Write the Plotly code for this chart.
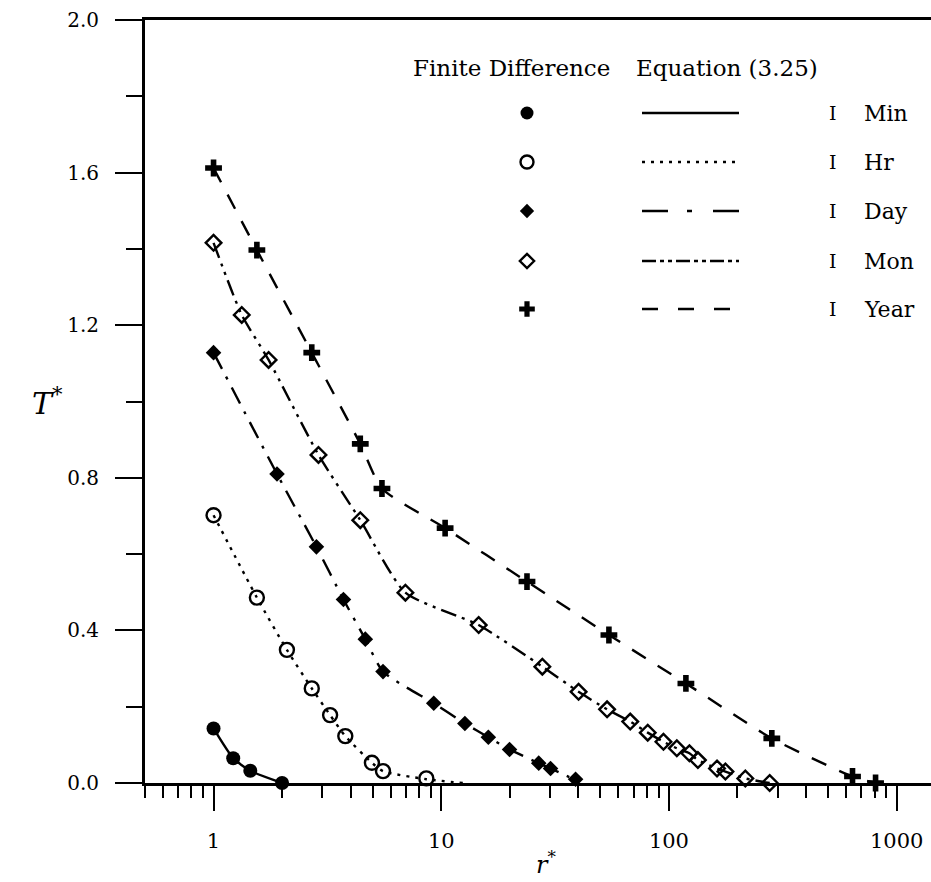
import numpy as np
import plotly.graph_objects as go

# ---------------- data ----------------
series_names = ["Min", "Hr", "Day", "Mon", "Year"]

# Finite difference results (markers)
min_fd_x = [1.0, 1.22, 1.45, 2.0]
min_fd_y = [0.143, 0.065, 0.032, 0.0]

hr_fd_x = [1.0, 1.55, 2.10, 2.70, 3.25, 3.79, 4.96, 5.55, 8.6]
hr_fd_y = [0.702, 0.486, 0.349, 0.248, 0.178, 0.123, 0.053, 0.031, 0.012]

day_fd_x = [1.0, 1.90, 2.83, 3.72, 4.64, 5.55, 9.27, 12.7, 16.1, 19.95, 26.8, 30.2, 38.9]
day_fd_y = [1.128, 0.81, 0.619, 0.481, 0.377, 0.292, 0.209, 0.156, 0.12, 0.088, 0.052, 0.038, 0.01]

mon_fd_x = [1.0, 1.33, 1.745, 2.89, 4.41, 6.96, 14.6, 27.8, 40.1, 53.5, 67.6, 80.7, 94.6,
            108.3, 123, 134, 162.6, 177, 216.5, 277]
mon_fd_y = [1.416, 1.227, 1.109, 0.86, 0.689, 0.499, 0.414, 0.305, 0.239, 0.193, 0.161, 0.132,
            0.108, 0.091, 0.078, 0.06, 0.038, 0.03, 0.012, 0.0]

year_fd_x = [1.0, 1.55, 2.70, 4.41, 5.49, 10.4, 23.8, 54.5, 118.7, 283, 640, 808]
year_fd_y = [1.612, 1.397, 1.128, 0.889, 0.772, 0.668, 0.528, 0.388, 0.261, 0.117, 0.017, 0.0]

# Equation (3.25) curves
min_eq_x = [1.0, 1.22, 1.45, 2.0]
min_eq_y = [0.143, 0.065, 0.032, 0.0]

hr_eq_x = [1.0, 1.55, 2.10, 2.70, 3.25, 3.79, 4.96, 5.55, 8.6, 12.5]
hr_eq_y = [0.702, 0.486, 0.349, 0.248, 0.178, 0.123, 0.053, 0.031, 0.010, 0.0]

day_eq_x = [1.0, 1.90, 2.83, 3.72, 4.64, 5.55, 9.27, 12.7, 16.1, 19.95, 26.8, 30.2, 38.9]
day_eq_y = [1.128, 0.81, 0.619, 0.481, 0.377, 0.292, 0.209, 0.156, 0.12, 0.088, 0.052, 0.038, 0.008]

mon_eq_x = [1.0, 1.33, 1.745, 2.89, 4.41, 6.96, 14.6, 27.8, 40.1, 53.5, 67.6, 80.7, 94.6,
            108.3, 123, 134, 162.6, 177, 216.5, 277]
mon_eq_y = [1.416, 1.227, 1.109, 0.86, 0.689, 0.499, 0.414, 0.305, 0.239, 0.193, 0.161, 0.132,
            0.108, 0.091, 0.078, 0.06, 0.038, 0.03, 0.012, 0.0]

year_eq_x = [1.0, 1.55, 2.70, 4.41, 5.49, 10.4, 23.8, 54.5, 118.7, 283, 640, 808]
year_eq_y = [1.612, 1.397, 1.128, 0.889, 0.772, 0.668, 0.528, 0.388, 0.261, 0.117, 0.017, 0.0]

x_tick_vals = [1, 10, 100, 1000]
x_tick_text = ["1", "10", "100", "1000"]
x_minor_vals = [0.5, 0.6, 0.7, 0.8, 0.9] + [m * d for d in (1, 10, 100) for m in range(2, 10)]
y_tick_vals = [0.0, 0.4, 0.8, 1.2, 1.6, 2.0]
y_tick_text = ["0.0", "0.4", "0.8", "1.2", "1.6", "2.0"]
y_minor_vals = [0.2, 0.6, 1.0, 1.4, 1.8]

# ---------------- styles ----------------
FONT = "DejaVu Serif"
W, H = 931, 882
ML, MR, MT, MB = 145, 0, 20, 99
PW, PH = W - ML - MR, H - MT - MB

styles = {
    "Min":  dict(symbol="circle", size=14, lw=0, dash="solid", leg_dash="solid"),
    "Hr":   dict(symbol="circle-open", size=14, lw=2.4, dash="3px,6px", leg_dash="3px,6px"),
    "Day":  dict(symbol="diamond", size=12, lw=0, dash="18px,9px,3px,9px", leg_dash="26px,19px,5px,21px"),
    "Mon":  dict(symbol="diamond-open", size=12, lw=2.4, dash="16px,6px,3px,6px,3px,6px",
                 leg_dash="14px,4px,4px,4px,4px,4px"),
    "Year": dict(symbol="cross", size=14, lw=0, dash="16px,14px", leg_dash="16px,20px"),
}

fd = {"Min": (min_fd_x, min_fd_y), "Hr": (hr_fd_x, hr_fd_y), "Day": (day_fd_x, day_fd_y),
      "Mon": (mon_fd_x, mon_fd_y), "Year": (year_fd_x, year_fd_y)}
eq = {"Min": (min_eq_x, min_eq_y), "Hr": (hr_eq_x, hr_eq_y), "Day": (day_eq_x, day_eq_y),
      "Mon": (mon_eq_x, mon_eq_y), "Year": (year_eq_x, year_eq_y)}


def px_to_paper(px, py):
    return (px - ML) / PW, (H - MB - py) / PH


fig = go.Figure()

for n in series_names:
    st = styles[n]
    ex, ey = eq[n]
    fig.add_trace(go.Scatter(x=ex, y=ey, mode="lines", showlegend=False,
                             line=dict(color="black", width=2.4, dash=st["dash"],
                                       shape="spline", smoothing=0.6),
                             cliponaxis=False, hoverinfo="skip"))
for n in series_names:
    st = styles[n]
    fx, fy = fd[n]
    fig.add_trace(go.Scatter(x=fx, y=fy, mode="markers", showlegend=False, name=n,
                             marker=dict(symbol=st["symbol"], size=st["size"], color="black",
                                         line=dict(color="black", width=st["lw"])),
                             cliponaxis=False))

# ---------------- custom legend (pixel overlay axes) ----------------
leg_rows = [113, 162, 211, 261, 309]
leg_marker_x = 527
leg_line_x0, leg_line_x1 = 642, 739
leg_bar_x = 833
leg_label_x = 862
header_y = 68

for n, ry in zip(series_names, leg_rows):
    st = styles[n]
    fig.add_trace(go.Scatter(x=[leg_marker_x], y=[ry], xaxis="x2", yaxis="y2", mode="markers",
                             showlegend=False, hoverinfo="skip",
                             marker=dict(symbol=st["symbol"], size=st["size"] - 1, color="black",
                                         line=dict(color="black", width=st["lw"]))))
    fig.add_trace(go.Scatter(x=[leg_line_x0, leg_line_x1], y=[ry, ry], xaxis="x2", yaxis="y2",
                             mode="lines", showlegend=False, hoverinfo="skip",
                             line=dict(color="black", width=2.4, dash=st["leg_dash"])))
    fig.add_annotation(x=leg_bar_x, y=ry, xref="x2", yref="y2", text="I", showarrow=False,
                       font=dict(family=FONT, size=19, color="black"), xanchor="center")
    fig.add_annotation(x=leg_label_x, y=ry, xref="x2", yref="y2", text=n, showarrow=False,
                       font=dict(family=FONT, size=22, color="black"), xanchor="left")

fig.add_annotation(x=511, y=header_y, xref="x2", yref="y2", text="Finite Difference",
                   showarrow=False, font=dict(family=FONT, size=23, color="black"), xanchor="center")
fig.add_annotation(x=727, y=header_y, xref="x2", yref="y2", text="Equation (3.25)",
                   showarrow=False, font=dict(family=FONT, size=23, color="black"), xanchor="center")

# axis titles (paper coordinates so they may sit outside the plot area)
tx, ty = px_to_paper(30, 401)
fig.add_annotation(x=tx, y=ty, xref="paper", yref="paper", text="<i>T</i><sup>*</sup>",
                   showarrow=False, font=dict(family=FONT, size=30, color="black"))
rx, ry_ = px_to_paper(546, 881)
fig.add_annotation(x=rx, y=ry_, xref="paper", yref="paper", text="<i>r</i><sup>*</sup>",
                   showarrow=False, yanchor="bottom",
                   font=dict(family=FONT, size=24, color="black"))

decade_px = 227.7
x_lo = np.log10(0.5)
x_hi = x_lo + PW / decade_px

fig.update_layout(
    width=W, height=H,
    margin=dict(l=ML, r=MR, t=MT, b=MB, pad=0),
    paper_bgcolor="white", plot_bgcolor="white",
    showlegend=False,
    font=dict(family=FONT, color="black"),
    xaxis=dict(type="log", range=[x_lo, x_hi], showgrid=False, zeroline=False,
               showline=True, linecolor="black", linewidth=3, mirror=True,
               ticks="outside", ticklen=25, tickwidth=2, tickcolor="black",
               tickmode="array", tickvals=x_tick_vals, ticktext=x_tick_text,
               tickfont=dict(family=FONT, size=21, color="black"), ticklabelstandoff=12,
               minor=dict(tickmode="array", tickvals=x_minor_vals, ticks="outside",
                          ticklen=12, tickwidth=2, tickcolor="black", showgrid=False)),
    yaxis=dict(range=[0, 2], showgrid=False, zeroline=False,
               showline=True, linecolor="black", linewidth=3,
               ticks="outside", ticklen=27, tickwidth=2, tickcolor="black",
               tickmode="array", tickvals=y_tick_vals, ticktext=y_tick_text,
               tickfont=dict(family=FONT, size=20, color="black"), ticklabelstandoff=12,
               minor=dict(tickmode="array", tickvals=y_minor_vals, ticks="outside",
                          ticklen=16, tickwidth=2, tickcolor="black", showgrid=False)),
    xaxis2=dict(overlaying="x", anchor="y2", range=[ML, W - MR], visible=False,
                showticklabels=False, ticks="", fixedrange=True),
    yaxis2=dict(overlaying="y", anchor="x2", range=[H - MB, MT], visible=False,
                showticklabels=False, ticks="", fixedrange=True),
)

fig.write_html("out.html")
